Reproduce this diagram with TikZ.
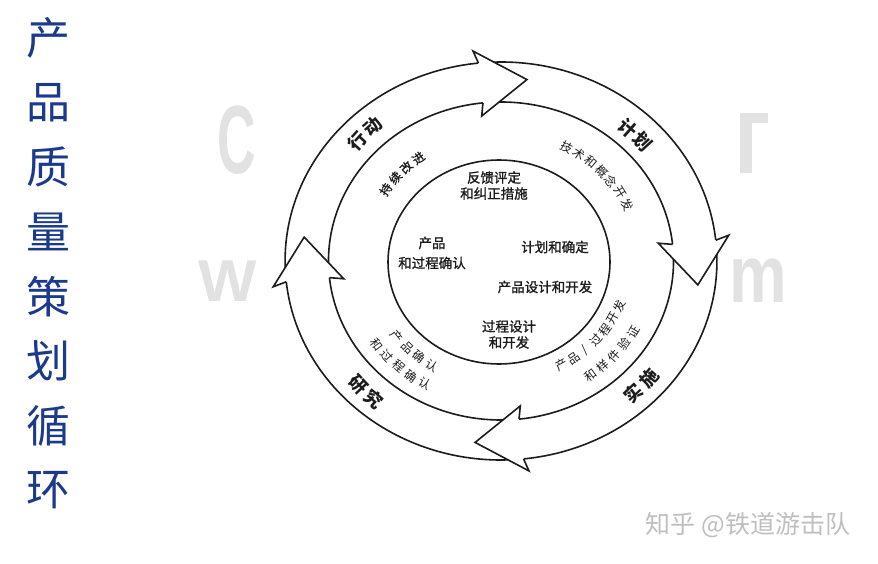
\documentclass[tikz,border=0pt]{standalone}
\usepackage{fontspec}
\setmainfont{Noto Sans CJK SC}
\newfontfamily\cjkmed[FakeBold=1.2]{Noto Sans CJK SC}
\newfontfamily\latinwm{Liberation Sans}
\definecolor{titleblue}{RGB}{28,58,140}
\definecolor{wm}{RGB}{226,226,226}
\definecolor{ink}{RGB}{28,28,28}
\begin{document}
\begin{tikzpicture}[x=1pt,y=1pt,
  ringline/.style={line width=1.6pt, draw=ink, line join=miter},
  bandlabel/.style={font=\fontsize{18}{18}\selectfont\bfseries, text=ink, inner sep=0},
  smalllabel/.style={font=\fontsize{12}{12}\selectfont, text=ink, inner sep=0},
  boldsmall/.style={font=\cjkmed\fontsize{12}{12}\selectfont, text=ink, inner sep=0},
  centerlabel/.style={font=\cjkmed\fontsize{13.5}{16}\selectfont, text=ink, align=center, inner sep=0},
  titlechar/.style={font=\fontsize{44}{44}\selectfont, text=titleblue, inner sep=0},
  wmletter/.style={text=wm, inner sep=0}
]
\useasboundingbox (0,0) rectangle (878,563);
\fill[white] (0,0) rectangle (878,563);

% faint background watermark
\node[wmletter, font=\latinwm\bfseries\fontsize{97}{97}\selectfont, xscale=0.55] (wmC) at (237,423) {C};
\node[wmletter, font=\latinwm\bfseries\fontsize{59}{59}\selectfont, xscale=1.05] (wmW) at (228,282) {W};
\node[wmletter, font=\latinwm\bfseries\fontsize{81}{81}\selectfont, xscale=0.8] (wmM) at (758,282) {m};
\fill[wm] (740,450) rectangle (752,390);
\fill[wm] (740,450) rectangle (768,440);

% title
\foreach \ch [count=\i from 0] in {产,品,质,量,策,划,循,环}{
  \node[titlechar] (title\i) at (49, 525-64.6*\i) {\ch};
}

% ring
\begin{scope}[shift={(501,302)}, xscale=1.085]
\foreach \k in {0,1,2,3}{
  \pgfmathsetmacro\S{184.5-90*\k}
  \pgfmathsetmacro\B{96-90*\k}
  \fill[white] (\S:199) arc[start angle=\S, end angle=\B, radius=199] -- (\B:159) arc[start angle=\B, end angle=\S, radius=159] -- cycle;
  \draw[ringline] (\S:199) arc[start angle=\S, end angle=\B, radius=199];
  \draw[ringline] (\S:159) arc[start angle=\S, end angle=\B, radius=159];
}
\foreach \k in {0,1,2,3}{
  \pgfmathsetmacro\B{96-90*\k}
  \pgfmathsetmacro\W{97-90*\k}
  \pgfmathsetmacro\T{82.5-90*\k}
  \fill[white] (\B:199) -- (\W:211.5) -- (\T:183) -- (\W:146) -- (\B:159) -- cycle;
  \draw[ringline] (\B:199) -- (\W:211.5) -- (\T:183) -- (\W:146) -- (\B:159);
}

% outer band labels
\foreach \ch [count=\i from 0] in {行,动}{
  \pgfmathsetmacro\a{137.8-6.4*\i}
  \node[bandlabel, rotate=\a-90] (act\i) at (\a:179) {\ch};
}
\foreach \ch [count=\i from 0] in {计,划}{
  \pgfmathsetmacro\a{48.7-6.4*\i}
  \node[bandlabel, rotate=\a-90] (plan\i) at (\a:177) {\ch};
}
\foreach \ch [count=\i from 0] in {实,施}{
  \pgfmathsetmacro\a{-47.2+6.4*\i}
  \node[bandlabel, rotate=\a+90] (do\i) at (\a:180) {\ch};
}
\foreach \ch [count=\i from 0] in {研,究}{
  \pgfmathsetmacro\a{-136.8+6.4*\i}
  \node[bandlabel, rotate=\a+90] (study\i) at (\a:181) {\ch};
}

% inner band labels
\foreach \ch [count=\i from 0] in {持,续,改,进}{
  \pgfmathsetmacro\a{146-6.5*\i}
  \node[boldsmall, rotate=\a-90] (imp\i) at (\a:128) {\ch};
}
\foreach \ch [count=\i from 0] in {技,术,和,概,念,开,发}{
  \pgfmathsetmacro\a{61.9-6*\i}
  \node[smalllabel, rotate=\a-90] (tech\i) at (\a:129) {\ch};
}
\foreach \ch [count=\i from 0] in {产,品,/,过,程,开,发}{
  \pgfmathsetmacro\a{-61.95+6.55*\i}
  \node[smalllabel, rotate=\a+90] (pdev\i) at (\a:118) {\ch};
}
\foreach \ch [count=\i from 0] in {和,样,件,验,证}{
  \pgfmathsetmacro\a{-53.9+5.9*\i}
  \node[smalllabel, rotate=\a+90] (proto\i) at (\a:141) {\ch};
}
\foreach \ch [count=\i from 0] in {产,品,确,认}{
  \pgfmathsetmacro\a{-141.7+6.8*\i}
  \node[smalllabel, rotate=\a+90] (pval\i) at (\a:122) {\ch};
}
\foreach \ch [count=\i from 0] in {和,过,程,确,认}{
  \pgfmathsetmacro\a{-143.94+6.07*\i}
  \node[smalllabel, rotate=\a+90] (procval\i) at (\a:141.5) {\ch};
}
\end{scope}

% inner circle
\draw[ringline] (499,301) ellipse [x radius=111, y radius=102];
\node[centerlabel] (feedback) at (494,377.5) {反馈评定\\和纠正措施};
\node[centerlabel] (prod1) at (432,320) {产品};
\node[centerlabel] (prod2) at (432,300) {和过程确认};
\node[centerlabel] (planconf) at (555,316) {计划和确定};
\node[centerlabel] (pdesign) at (545,276) {产品设计和开发};
\node[centerlabel] (procdesign) at (509,228.5) {过程设计\\和开发};

% zhihu watermark
\node[font=\fontsize{25}{25}\selectfont, text=black!25, inner sep=0] (zhihu) at (748,38) {知乎 @铁道游击队};
\end{tikzpicture}
\end{document}
